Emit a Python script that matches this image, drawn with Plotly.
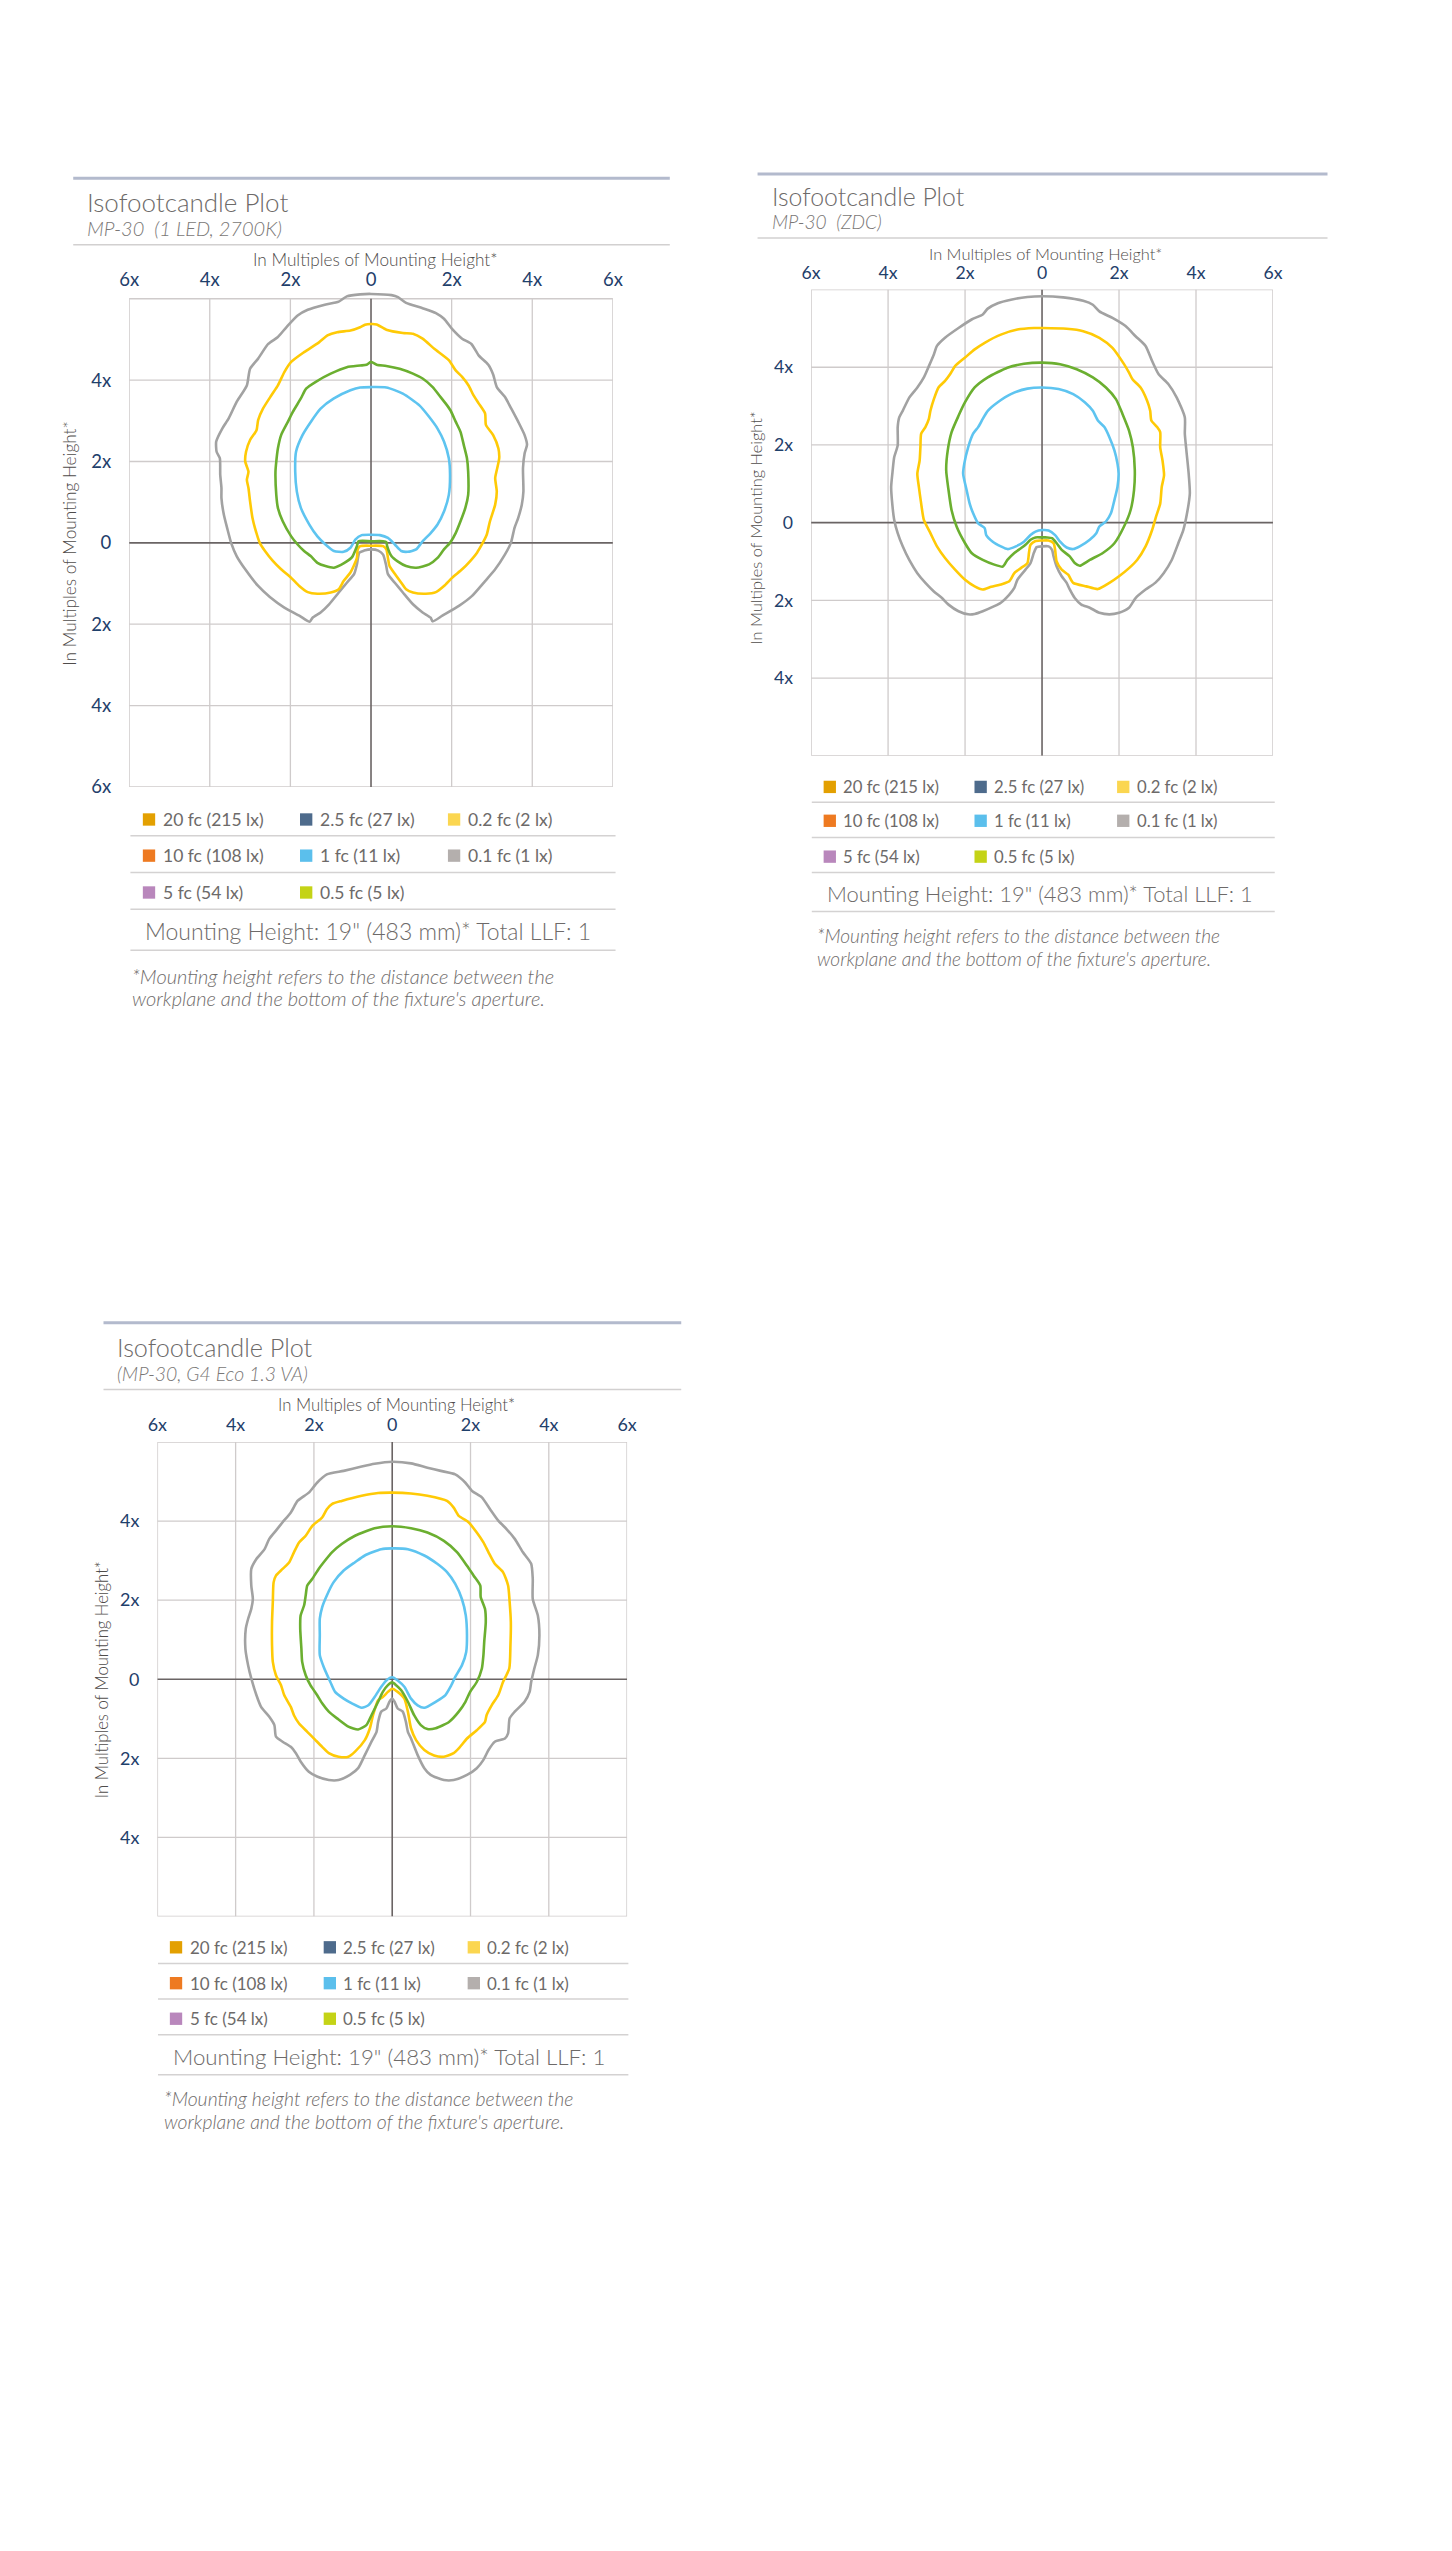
import plotly.graph_objects as go

# page size and the browser's default 8px body margin
PAGE_W, PAGE_H = 1452, 2551
BODY = 8
W, H = PAGE_W - 2 * BODY, PAGE_H - 2 * BODY

# ---------------- data ----------------
TICK_VALS = [-6, -4, -2, 0, 2, 4, 6]
X_TICK_TEXT = ['6x', '4x', '2x', '0', '2x', '4x', '6x']
Y_TICK_VALS_1 = [-6, -4, -2, 0, 2, 4]
Y_TICK_TEXT_1 = ['6x', '4x', '2x', '0', '2x', '4x']
Y_TICK_VALS_23 = [-4, -2, 0, 2, 4]
Y_TICK_TEXT_23 = ['4x', '2x', '0', '2x', '4x']
GRID_VALS = [-4, -2, 2, 4]

TITLES = ['Isofootcandle Plot', 'Isofootcandle Plot', 'Isofootcandle Plot']
SUBTITLES = ['MP-30  (1 LED, 2700K)', 'MP-30  (ZDC)', '(MP-30, G4 Eco 1.3 VA)']
AXIS_TITLE = 'In Multiples of Mounting Height*'
MOUNTING_TEXT = 'Mounting Height: 19" (483 mm)* Total LLF: 1'
FOOTNOTE = ['*Mounting height refers to the distance between the',
            "workplane and the bottom of the fixture's aperture."]

LEGEND_LABELS = [['20 fc (215 lx)', '2.5 fc (27 lx)', '0.2 fc (2 lx)'],
                 ['10 fc (108 lx)', '1 fc (11 lx)', '0.1 fc (1 lx)'],
                 ['5 fc (54 lx)', '0.5 fc (5 lx)']]
LEGEND_COLORS = [['#E3A001', '#4E6B8C', '#FBD650'],
                 ['#EE7A21', '#5BBFEC', '#B4AFAD'],
                 ['#B987BC', '#C4D316']]

CURVE_LEVELS = ['0.1 fc', '0.2 fc', '0.5 fc', '1 fc']
CURVE_COLORS = ['#A2A2A2', '#FFCA06', '#6BAF30', '#5EC4F0']

# Panel 1 : MP-30 (1 LED, 2700K)
P1_GRAY_X = [0, 0.51, 0.67, 0.87, 1.28, 1.61, 1.81, 2.01, 2.26, 2.49, 2.67, 2.91, 3.03, 3.12, 3.32, 3.48, 3.65, 3.81, 3.87, 3.81, 3.77, 3.78, 3.74, 3.65, 3.56, 3.47, 3.32, 3.08, 2.83, 2.50, 2.18, 1.77, 1.53, 1.48, 1.28, 1.04, 0.79, 0.59, 0.42, 0.37, 0.30, 0.18, 0,
             -0.17, -0.29, -0.35, -0.42, -0.60, -0.80, -1.04, -1.25, -1.45, -1.52, -1.78, -2.15, -2.51, -2.80, -3.12, -3.33, -3.47, -3.57, -3.65, -3.71, -3.71, -3.74, -3.75, -3.83, -3.84, -3.69, -3.53, -3.33, -3.08, -3.00, -2.80, -2.55, -2.31, -2.10, -1.82, -1.57, -1.17, -0.80, -0.60, -0.27, 0]
P1_GRAY_Y = [6.12, 6.09, 6.04, 5.90, 5.77, 5.65, 5.51, 5.26, 5.02, 4.89, 4.61, 4.38, 4.14, 3.83, 3.59, 3.30, 2.98, 2.65, 2.41, 2.20, 1.84, 1.26, 0.94, 0.61, 0.37, 0.00, -0.29, -0.65, -0.94, -1.31, -1.55, -1.79, -1.93, -1.84, -1.71, -1.51, -1.22, -0.98, -0.77, -0.53, -0.29, -0.19, -0.16,
             -0.19, -0.24, -0.53, -0.77, -0.98, -1.22, -1.51, -1.71, -1.84, -1.94, -1.79, -1.59, -1.33, -1.06, -0.65, -0.33, 0, 0.37, 0.69, 1.10, 1.35, 1.67, 2.08, 2.24, 2.49, 2.81, 3.06, 3.47, 3.87, 4.28, 4.53, 4.89, 5.06, 5.30, 5.59, 5.73, 5.85, 5.93, 6.06, 6.11, 6.12]
P1_YELLOW_X = [0, 0.14, 0.38, 0.79, 1.04, 1.28, 1.57, 1.93, 2.10, 2.26, 2.42, 2.54, 2.67, 2.83, 2.85, 3.03, 3.16, 3.18, 3.12, 3.08, 3.12, 3.08, 2.95, 2.87, 2.75, 2.63, 2.42, 2.26, 2.01, 1.81, 1.61, 1.36, 1.04, 0.87, 0.75, 0.59, 0.46, 0.42, 0.38, 0.30, 0,
               -0.27, -0.33, -0.35, -0.43, -0.51, -0.68, -0.80, -1.00, -1.33, -1.57, -1.78, -1.98, -2.23, -2.43, -2.63, -2.76, -2.88, -2.94, -3.00, -3.04, -3.08, -3.04, -3.12, -3.10, -3.00, -2.84, -2.80, -2.68, -2.47, -2.31, -2.15, -1.98, -1.66, -1.29, -1.08, -0.84, -0.51, -0.27, -0.15, 0]
P1_YELLOW_Y = [5.38, 5.37, 5.24, 5.16, 5.14, 5.02, 4.77, 4.49, 4.24, 4.08, 3.87, 3.63, 3.43, 3.18, 2.90, 2.65, 2.32, 2.08, 1.79, 1.59, 1.26, 0.94, 0.53, 0.20, -0.04, -0.24, -0.49, -0.65, -0.86, -1.06, -1.21, -1.25, -1.22, -1.14, -0.98, -0.76, -0.57, -0.37, -0.16, -0.08, -0.07,
               -0.08, -0.16, -0.37, -0.57, -0.73, -0.94, -1.14, -1.22, -1.25, -1.21, -1.06, -0.86, -0.65, -0.45, -0.20, 0, 0.37, 0.61, 1.02, 1.35, 1.55, 1.75, 2.00, 2.24, 2.53, 2.77, 3.02, 3.30, 3.63, 3.87, 4.20, 4.45, 4.69, 4.93, 5.10, 5.18, 5.22, 5.30, 5.36, 5.38]
P1_GREEN_X = [0, 0.14, 0.38, 0.71, 1.04, 1.28, 1.53, 1.69, 1.85, 1.97, 2.10, 2.22, 2.30, 2.38, 2.41, 2.41, 2.34, 2.22, 2.10, 1.96, 1.81, 1.65, 1.44, 1.12, 0.87, 0.67, 0.51, 0.40, 0.38, 0.30, 0,
              -0.31, -0.35, -0.47, -0.66, -0.92, -1.13, -1.33, -1.49, -1.66, -1.82, -1.98, -2.19, -2.31, -2.35, -2.37, -2.35, -2.31, -2.23, -2.06, -1.94, -1.74, -1.61, -1.37, -1.00, -0.60, -0.27, -0.11, 0]
P1_GREEN_Y = [4.45, 4.38, 4.35, 4.28, 4.16, 4.04, 3.83, 3.63, 3.43, 3.26, 2.98, 2.73, 2.41, 2.08, 1.75, 1.18, 0.86, 0.53, 0.24, 0, -0.16, -0.37, -0.53, -0.61, -0.57, -0.46, -0.33, -0.08, 0.02, 0.04, 0.04,
              0.04, -0.08, -0.35, -0.49, -0.61, -0.57, -0.49, -0.33, -0.20, -0.04, 0.16, 0.53, 0.86, 1.18, 1.75, 2.00, 2.32, 2.65, 2.98, 3.22, 3.55, 3.79, 3.96, 4.16, 4.32, 4.36, 4.38, 4.45]
P1_BLUE_X = [0, 0.38, 0.79, 1.20, 1.44, 1.65, 1.81, 1.93, 1.96, 1.93, 1.81, 1.65, 1.48, 1.28, 1.12, 0.91, 0.75, 0.59, 0.42, 0.22, 0,
             -0.23, -0.39, -0.51, -0.68, -0.92, -1.13, -1.33, -1.53, -1.74, -1.84, -1.88, -1.86, -1.70, -1.49, -1.25, -0.92, -0.51, -0.27, 0]
P1_BLUE_Y = [3.83, 3.82, 3.67, 3.38, 3.10, 2.81, 2.49, 2.08, 1.67, 1.18, 0.77, 0.45, 0.24, 0.04, -0.16, -0.22, -0.20, -0.04, 0.12, 0.19, 0.20,
             0.19, 0.08, -0.12, -0.22, -0.20, -0.04, 0.16, 0.45, 0.86, 1.26, 1.75, 2.24, 2.65, 2.98, 3.30, 3.55, 3.75, 3.82, 3.83]

# Panel 2 : MP-30 (ZDC)
P2_GRAY_X = [0, 0.55, 1.07, 1.32, 1.49, 1.83, 2.17, 2.43, 2.69, 2.86, 3.03, 3.28, 3.50, 3.71, 3.71, 3.75, 3.81, 3.84, 3.75, 3.67, 3.54, 3.37, 3.16, 2.94, 2.69, 2.43, 2.26, 2.00, 1.75, 1.49, 1.24, 1.02, 0.85, 0.72, 0.64, 0.51, 0.38, 0.30, 0.26, 0.17, 0,
             -0.14, -0.21, -0.30, -0.43, -0.64, -0.72, -0.85, -1.07, -1.24, -1.54, -1.75, -1.92, -2.17, -2.43, -2.60, -2.81, -3.03, -3.24, -3.45, -3.62, -3.75, -3.84, -3.90, -3.92, -3.88, -3.84, -3.75, -3.75, -3.71, -3.62, -3.45, -3.24, -3.07, -2.94, -2.81, -2.73, -2.52, -2.17, -1.83, -1.54, -1.41, -1.15, -0.81, -0.38, 0]
P2_GRAY_Y = [5.83, 5.80, 5.71, 5.61, 5.44, 5.27, 5.06, 4.80, 4.55, 4.16, 3.82, 3.57, 3.22, 2.71, 2.29, 1.86, 1.26, 0.75, 0.15, -0.19, -0.53, -0.96, -1.30, -1.55, -1.72, -1.94, -2.19, -2.32, -2.36, -2.32, -2.19, -2.11, -1.94, -1.72, -1.55, -1.38, -1.13, -0.87, -0.70, -0.61, -0.61,
             -0.63, -0.77, -1.04, -1.21, -1.47, -1.68, -1.85, -2.06, -2.15, -2.28, -2.35, -2.36, -2.28, -2.11, -1.94, -1.77, -1.55, -1.30, -0.96, -0.61, -0.27, 0.07, 0.58, 0.92, 1.35, 1.69, 1.99, 2.46, 2.71, 2.88, 3.22, 3.48, 3.74, 4.03, 4.33, 4.55, 4.76, 5.01, 5.23, 5.36, 5.51, 5.65, 5.74, 5.81, 5.83]
P2_YELLOW_X = [0, 0.64, 1.07, 1.49, 1.83, 2.13, 2.26, 2.35, 2.56, 2.73, 2.81, 2.84, 2.99, 3.07, 3.07, 3.13, 3.17, 3.11, 3.07, 2.96, 2.86, 2.69, 2.47, 2.26, 2.00, 1.75, 1.45, 1.15, 0.81, 0.68, 0.51, 0.38, 0.34, 0.30, 0.17, 0,
               -0.17, -0.30, -0.34, -0.38, -0.55, -0.72, -0.85, -1.07, -1.32, -1.54, -1.75, -2.00, -2.26, -2.52, -2.73, -2.90, -3.07, -3.14, -3.20, -3.24, -3.18, -3.16, -3.14, -3.03, -2.94, -2.90, -2.81, -2.69, -2.52, -2.39, -2.26, -2.00, -1.75, -1.49, -1.07, -0.64, -0.21, 0]
P2_YELLOW_Y = [5.01, 4.99, 4.93, 4.76, 4.50, 4.08, 3.86, 3.69, 3.48, 3.14, 2.88, 2.63, 2.46, 2.33, 1.94, 1.60, 1.22, 0.92, 0.49, 0.15, -0.19, -0.61, -0.96, -1.17, -1.38, -1.55, -1.71, -1.64, -1.55, -1.34, -1.21, -1.00, -0.70, -0.53, -0.46, -0.46,
               -0.47, -0.57, -0.78, -1.04, -1.17, -1.30, -1.51, -1.59, -1.65, -1.72, -1.64, -1.47, -1.21, -0.91, -0.61, -0.27, 0.07, 0.49, 0.92, 1.26, 1.60, 1.94, 2.29, 2.46, 2.67, 2.88, 3.18, 3.48, 3.65, 3.82, 4.03, 4.25, 4.46, 4.63, 4.84, 4.97, 5.01, 5.01]
P2_GREEN_X = [0, 0.47, 0.90, 1.32, 1.66, 1.92, 2.09, 2.26, 2.36, 2.41, 2.39, 2.30, 2.13, 1.88, 1.58, 1.24, 0.98, 0.85, 0.72, 0.51, 0.38, 0.26, 0.13, 0,
              -0.17, -0.30, -0.43, -0.55, -0.72, -0.90, -1.02, -1.24, -1.54, -1.83, -2.00, -2.22, -2.35, -2.43, -2.49, -2.45, -2.35, -2.17, -2.00, -1.75, -1.41, -0.90, -0.47, 0]
P2_GREEN_Y = [4.12, 4.08, 3.95, 3.74, 3.48, 3.18, 2.80, 2.37, 1.94, 1.35, 0.84, 0.32, -0.10, -0.53, -0.78, -0.96, -1.11, -1.04, -0.87, -0.70, -0.53, -0.40, -0.38, -0.38,
              -0.38, -0.44, -0.57, -0.66, -0.78, -0.96, -1.13, -1.08, -0.96, -0.78, -0.53, -0.10, 0.32, 0.84, 1.35, 1.86, 2.33, 2.75, 3.10, 3.48, 3.74, 3.99, 4.09, 4.12]
P2_BLUE_X = [0, 0.43, 0.81, 1.11, 1.32, 1.45, 1.62, 1.75, 1.88, 1.96, 1.99, 1.96, 1.88, 1.79, 1.66, 1.49, 1.41, 1.24, 0.98, 0.81, 0.64, 0.47, 0.34, 0.17, 0,
             -0.17, -0.30, -0.47, -0.68, -0.90, -1.07, -1.28, -1.45, -1.49, -1.66, -1.79, -1.88, -1.96, -2.05, -2.02, -1.92, -1.79, -1.66, -1.54, -1.41, -1.15, -0.81, -0.38, 0]
P2_BLUE_Y = [3.48, 3.44, 3.31, 3.10, 2.88, 2.63, 2.46, 2.20, 1.86, 1.52, 1.26, 0.92, 0.58, 0.24, 0.03, -0.10, -0.27, -0.44, -0.61, -0.68, -0.64, -0.49, -0.32, -0.20, -0.19,
             -0.23, -0.32, -0.49, -0.61, -0.68, -0.61, -0.49, -0.32, -0.14, -0.02, 0.24, 0.49, 0.84, 1.26, 1.52, 1.94, 2.29, 2.46, 2.67, 2.88, 3.10, 3.31, 3.45, 3.48]

# Panel 3 : MP-30, G4 Eco 1.3 VA
P3_GRAY_X = [0, 0.48, 0.90, 1.24, 1.61, 1.87, 2.04, 2.29, 2.50, 2.71, 2.92, 3.13, 3.34, 3.55, 3.59, 3.59, 3.72, 3.76, 3.72, 3.63, 3.55, 3.51, 3.38, 3.13, 3.00, 2.96, 2.88, 2.62, 2.46, 2.33, 2.16, 1.91, 1.57, 1.32, 0.98, 0.82, 0.65, 0.48, 0.40, 0.35, 0.27, 0.14, 0.06, 0,
             -0.07, -0.15, -0.28, -0.36, -0.40, -0.53, -0.70, -0.87, -1.08, -1.37, -1.62, -1.92, -2.13, -2.34, -2.46, -2.59, -2.80, -2.97, -3.01, -3.14, -3.35, -3.47, -3.60, -3.68, -3.75, -3.74, -3.68, -3.60, -3.56, -3.60, -3.60, -3.47, -3.26, -3.14, -2.97, -2.80, -2.59, -2.42, -2.30, -2.13, -1.92, -1.67, -1.24, -0.78, -0.45, 0]
P3_GRAY_Y = [5.50, 5.46, 5.35, 5.27, 5.18, 4.97, 4.76, 4.60, 4.30, 4.01, 3.80, 3.55, 3.21, 2.92, 2.54, 2.03, 1.61, 1.11, 0.61, 0.27, -0.07, -0.32, -0.57, -0.82, -0.99, -1.37, -1.50, -1.58, -1.79, -2.04, -2.25, -2.42, -2.55, -2.55, -2.42, -2.25, -1.92, -1.50, -1.33, -1.08, -0.82, -0.74, -0.57, -0.49,
             -0.57, -0.74, -0.82, -1.08, -1.33, -1.58, -1.92, -2.25, -2.42, -2.55, -2.55, -2.46, -2.34, -2.08, -1.87, -1.71, -1.58, -1.45, -1.16, -0.95, -0.70, -0.40, 0.02, 0.35, 0.77, 1.28, 1.53, 1.78, 2.03, 2.37, 2.79, 3.04, 3.29, 3.55, 3.76, 3.97, 4.22, 4.51, 4.60, 4.72, 4.97, 5.18, 5.27, 5.38, 5.45, 5.50]
P3_YELLOW_X = [0, 0.48, 0.90, 1.40, 1.57, 1.70, 1.95, 2.16, 2.33, 2.46, 2.62, 2.83, 2.96, 3.00, 3.03, 3.02, 2.99, 2.83, 2.71, 2.54, 2.41, 2.37, 2.16, 1.91, 1.70, 1.57, 1.32, 1.07, 0.82, 0.61, 0.48, 0.40, 0.31, 0.14, 0,
               -0.11, -0.24, -0.36, -0.49, -0.57, -0.70, -0.95, -1.12, -1.37, -1.62, -1.79, -1.96, -2.17, -2.38, -2.51, -2.59, -2.76, -2.84, -2.97, -3.05, -3.07, -3.07, -3.05, -3.03, -2.97, -2.80, -2.63, -2.51, -2.38, -2.21, -2.04, -1.79, -1.67, -1.54, -1.29, -0.78, -0.36, 0]
P3_YELLOW_Y = [4.72, 4.70, 4.64, 4.51, 4.34, 4.13, 3.97, 3.71, 3.46, 3.21, 2.92, 2.71, 2.37, 1.95, 1.45, 0.86, 0.27, -0.07, -0.40, -0.66, -0.91, -1.08, -1.29, -1.50, -1.75, -1.87, -1.96, -1.93, -1.79, -1.54, -1.24, -0.82, -0.49, -0.32, -0.24,
               -0.32, -0.45, -0.53, -0.91, -1.24, -1.54, -1.83, -1.96, -1.96, -1.87, -1.71, -1.54, -1.33, -1.12, -0.91, -0.70, -0.40, -0.15, 0.10, 0.44, 0.86, 1.45, 1.95, 2.45, 2.62, 2.79, 2.96, 3.21, 3.46, 3.63, 3.88, 4.09, 4.30, 4.43, 4.51, 4.64, 4.71, 4.72]
P3_GREEN_X = [0, 0.48, 0.90, 1.32, 1.66, 1.91, 2.08, 2.25, 2.26, 2.37, 2.39, 2.35, 2.33, 2.29, 2.16, 1.99, 1.87, 1.70, 1.45, 1.11, 0.90, 0.73, 0.56, 0.40, 0.23, 0.10, 0,
              -0.11, -0.24, -0.36, -0.53, -0.66, -0.87, -1.12, -1.41, -1.62, -1.79, -1.92, -2.09, -2.21, -2.30, -2.32, -2.35, -2.34, -2.25, -2.21, -2.17, -2.04, -1.88, -1.75, -1.54, -1.29, -0.95, -0.45, 0]
P3_GREEN_Y = [3.87, 3.82, 3.71, 3.50, 3.21, 2.87, 2.62, 2.37, 2.08, 1.78, 1.45, 0.94, 0.61, 0.27, -0.07, -0.32, -0.57, -0.82, -1.08, -1.24, -1.26, -1.16, -0.91, -0.57, -0.28, -0.15, -0.08,
              -0.15, -0.32, -0.57, -0.91, -1.16, -1.27, -1.20, -0.99, -0.82, -0.61, -0.40, -0.15, 0.10, 0.44, 0.77, 1.28, 1.61, 1.87, 2.12, 2.37, 2.54, 2.79, 2.96, 3.21, 3.42, 3.63, 3.82, 3.87]
P3_BLUE_X = [0, 0.40, 0.82, 1.15, 1.40, 1.61, 1.78, 1.88, 1.91, 1.89, 1.78, 1.61, 1.49, 1.36, 1.11, 0.82, 0.65, 0.48, 0.31, 0.14, 0,
             -0.15, -0.28, -0.45, -0.61, -0.78, -1.03, -1.24, -1.46, -1.58, -1.75, -1.85, -1.85, -1.85, -1.79, -1.67, -1.50, -1.24, -0.95, -0.70, -0.28, 0]
P3_BLUE_Y = [3.31, 3.29, 3.13, 2.92, 2.71, 2.41, 2.03, 1.61, 1.11, 0.69, 0.35, 0.06, -0.19, -0.40, -0.57, -0.72, -0.66, -0.49, -0.19, -0.03, 0.05,
             -0.03, -0.19, -0.45, -0.66, -0.72, -0.61, -0.49, -0.32, -0.07, 0.31, 0.61, 1.11, 1.53, 1.82, 2.12, 2.45, 2.75, 2.96, 3.13, 3.29, 3.31]

PANEL_CURVES = [
    [(P1_GRAY_X, P1_GRAY_Y), (P1_YELLOW_X, P1_YELLOW_Y), (P1_GREEN_X, P1_GREEN_Y), (P1_BLUE_X, P1_BLUE_Y)],
    [(P2_GRAY_X, P2_GRAY_Y), (P2_YELLOW_X, P2_YELLOW_Y), (P2_GREEN_X, P2_GREEN_Y), (P2_BLUE_X, P2_BLUE_Y)],
    [(P3_GRAY_X, P3_GRAY_Y), (P3_YELLOW_X, P3_YELLOW_Y), (P3_GREEN_X, P3_GREEN_Y), (P3_BLUE_X, P3_BLUE_Y)],
]

# ---------------- layout geometry (page pixels) ----------------
PANELS = [
    dict(scale=1.0, plot_x=(120.7, 611.3), plot_y=(291.8, 790.0), yrange=[-6, 6.2],
         ytv=Y_TICK_VALS_1, ytt=Y_TICK_TEXT_1, xstand=0,
         hdr_x=(64, 669), hdr_top=179, title_y=202.5, sub_y=228.5, hdr_bot=245.6, text_x=76,
         axtitle=(370, 260), ytitle_x=60.6, ytitle_y=546,
         rows=[822.7, 859, 896], seps=[839, 876, 912.7, 954], sep_x=(122, 614),
         sw_x=[134.6, 294, 444], mount=(134.6, 935), foot=(122, 980, 1001.7)),
    dict(scale=0.955, plot_x=(812.3, 1280.7), plot_y=(290.7, 758.7), yrange=[-6, 6],
         ytv=Y_TICK_VALS_23, ytt=Y_TICK_TEXT_23, xstand=6,
         hdr_x=(758, 1336), hdr_top=174.7, title_y=197, sub_y=222, hdr_bot=239, text_x=771,
         axtitle=(1049.6, 254.5), ytitle_x=756, ytitle_y=530,
         rows=[790, 824, 860], seps=[805.3, 840.7, 876, 915], sep_x=(813, 1282.5),
         sw_x=[825, 978, 1122.6], mount=(826, 896.7), foot=(816, 939, 962)),
    dict(scale=0.97, plot_x=(149.3, 625.7), plot_y=(1447.7, 1924.0), yrange=[-6, 6],
         ytv=Y_TICK_VALS_23, ytt=Y_TICK_TEXT_23, xstand=6,
         hdr_x=(94.7, 680.6), hdr_top=1328, title_y=1352, sub_y=1379, hdr_bot=1395, text_x=106,
         axtitle=(392, 1410.7), ytitle_x=94, ytitle_y=1686,
         rows=[1955, 1991, 2026.7], seps=[1971.3, 2007, 2042.7, 2083], sep_x=(150, 627),
         sw_x=[162, 318, 464], mount=(163, 2065), foot=(154, 2107, 2130)),
]

FONT = 'Lato, "Open Sans", sans-serif'
TEXT_GRAY = '#6d6a69'
TICK_BLUE = '#1f406b'
GRID_COLOR = '#cfcbcb'
ZERO_COLOR = '#6a6464'


def fx(px):
    return (px - BODY) / W


def fy(py):
    return 1 - (py - BODY) / H


fig = go.Figure()
shapes = []
annotations = []
layout_axes = {}

for i, (pan, curves) in enumerate(zip(PANELS, PANEL_CURVES)):
    n = '' if i == 0 else str(i + 1)
    xa, ya = 'x' + n, 'y' + n
    s = pan['scale']
    layout_axes['xaxis' + n] = dict(
        domain=[fx(pan['plot_x'][0]), fx(pan['plot_x'][1])], range=[-6, 6], anchor=ya,
        side='top', showgrid=False, zeroline=False, showline=False, ticks='',
        tickvals=TICK_VALS, ticktext=X_TICK_TEXT, ticklabelstandoff=pan['xstand'],
        tickfont=dict(family=FONT, size=18.5 * s, color=TICK_BLUE, weight=400), fixedrange=True)
    layout_axes['yaxis' + n] = dict(
        domain=[fy(pan['plot_y'][1]), fy(pan['plot_y'][0])], range=pan['yrange'], anchor=xa,
        showgrid=False, zeroline=False, showline=False, ticks='',
        tickvals=pan['ytv'], ticktext=pan['ytt'], ticklabelstandoff=17,
        tickfont=dict(family=FONT, size=18.5 * s, color=TICK_BLUE, weight=400), fixedrange=True)

    # grid, frame and axis cross in data coordinates of each panel
    for v in GRID_VALS:
        shapes.append(dict(type='line', xref=xa, yref=ya, x0=v, x1=v, y0=-6, y1=6,
                           line=dict(color=GRID_COLOR, width=1.3), layer='below'))
        shapes.append(dict(type='line', xref=xa, yref=ya, x0=-6, x1=6, y0=v, y1=v,
                           line=dict(color=GRID_COLOR, width=1.3), layer='below'))
    shapes.append(dict(type='rect', xref=xa, yref=ya, x0=-6, x1=6, y0=-6, y1=6,
                       line=dict(color=GRID_COLOR, width=1.5), layer='below'))
    shapes.append(dict(type='line', xref=xa, yref=ya, x0=0, x1=0, y0=-6, y1=6,
                       line=dict(color=ZERO_COLOR, width=1.6), layer='below'))
    shapes.append(dict(type='line', xref=xa, yref=ya, x0=-6, x1=6, y0=0, y1=0,
                       line=dict(color=ZERO_COLOR, width=1.6), layer='below'))

    for (cx, cy), color, lvl in zip(curves, CURVE_COLORS, CURVE_LEVELS):
        fig.add_trace(go.Scatter(x=cx, y=cy, xaxis=xa, yaxis=ya, mode='lines', name=lvl,
                                 line=dict(color=color, width=2.6, shape='spline', smoothing=0.6),
                                 hoverinfo='skip', showlegend=False))

    # header
    shapes.append(dict(type='line', xref='paper', yref='paper',
                       x0=fx(pan['hdr_x'][0]), x1=fx(pan['hdr_x'][1]),
                       y0=fy(pan['hdr_top']), y1=fy(pan['hdr_top']),
                       line=dict(color='#b3bacd', width=3)))
    shapes.append(dict(type='line', xref='paper', yref='paper',
                       x0=fx(pan['hdr_x'][0]), x1=fx(pan['hdr_x'][1]),
                       y0=fy(pan['hdr_bot']), y1=fy(pan['hdr_bot']),
                       line=dict(color='#d2d0d0', width=1.5)))
    annotations.append(dict(xref='paper', yref='paper', x=fx(pan['text_x']), y=fy(pan['title_y']),
                            text=TITLES[i], showarrow=False, xanchor='left', yanchor='middle',
                            font=dict(family=FONT, size=26 * s, color=TEXT_GRAY, weight=300)))
    annotations.append(dict(xref='paper', yref='paper', x=fx(pan['text_x']), y=fy(pan['sub_y']),
                            text=SUBTITLES[i], showarrow=False, xanchor='left', yanchor='middle',
                            font=dict(family=FONT, size=20 * s, color='#7a7776', style='italic', weight=300)))
    annotations.append(dict(xref='paper', yref='paper', x=fx(pan['axtitle'][0]), y=fy(pan['axtitle'][1]),
                            text=AXIS_TITLE, showarrow=False, xanchor='center', yanchor='middle',
                            font=dict(family=FONT, size=17.2 * s, color='#4f4c4b', weight=300)))
    annotations.append(dict(xref='paper', yref='paper', x=fx(pan['ytitle_x']), y=fy(pan['ytitle_y']),
                            text=AXIS_TITLE, showarrow=False, xanchor='center', yanchor='middle',
                            textangle=-90, font=dict(family=FONT, size=17.2 * s, color='#4f4c4b', weight=300)))

    # legend block
    for r, (labels, colors) in enumerate(zip(LEGEND_LABELS, LEGEND_COLORS)):
        ry = pan['rows'][r]
        for c, (lab, col) in enumerate(zip(labels, colors)):
            sx = pan['sw_x'][c]
            shapes.append(dict(type='rect', xref='paper', yref='paper',
                               x0=fx(sx), x1=fx(sx + 12.5), y0=fy(ry + 6.2), y1=fy(ry - 6.2),
                               fillcolor=col, line=dict(width=0)))
            annotations.append(dict(xref='paper', yref='paper', x=fx(sx + 18), y=fy(ry),
                                    text=lab, showarrow=False, xanchor='left', yanchor='middle',
                                    font=dict(family=FONT, size=17.5 * s, color=TEXT_GRAY, weight=400)))
    for sy in pan['seps']:
        shapes.append(dict(type='line', xref='paper', yref='paper',
                           x0=fx(pan['sep_x'][0]), x1=fx(pan['sep_x'][1]), y0=fy(sy), y1=fy(sy),
                           line=dict(color='#d4d2d2', width=1.5)))
    annotations.append(dict(xref='paper', yref='paper', x=fx(pan['mount'][0]), y=fy(pan['mount'][1]),
                            text=MOUNTING_TEXT, showarrow=False, xanchor='left', yanchor='middle',
                            font=dict(family=FONT, size=23 * s, color=TEXT_GRAY, weight=300)))
    for k, line in enumerate(FOOTNOTE):
        annotations.append(dict(xref='paper', yref='paper', x=fx(pan['foot'][0]), y=fy(pan['foot'][1 + k]),
                                text=line, showarrow=False, xanchor='left', yanchor='middle',
                                font=dict(family=FONT, size=20 * s, color='#6f6c6b', style='italic', weight=300)))

fig.update_layout(
    width=W, height=H, margin=dict(l=0, r=0, t=0, b=0),
    paper_bgcolor='white', plot_bgcolor='white',
    shapes=shapes, annotations=annotations, showlegend=False,
    font=dict(family=FONT, color=TEXT_GRAY),
    **layout_axes)

fig.write_html('out.html')
